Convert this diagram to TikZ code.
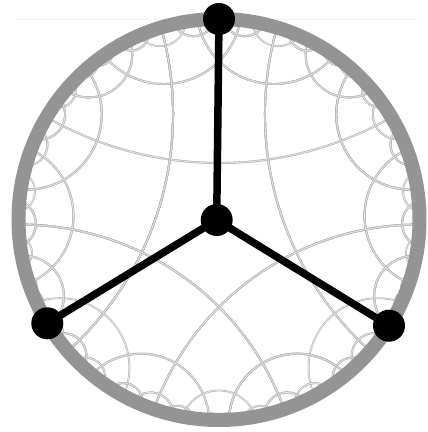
\documentclass[tikz,border=0pt]{standalone}
\usepackage{xfp}

% disk of the {5,4} tiling (pixels), shift of the central pentagon, cut-off
\def\Ox{219}\def\Oy{-219.5}\def\Rt{206}
\def\tshift{0.032}\def\alphamin{2.3}

% a geodesic k is stored by its two ideal end angles
\newcommand\setline[3]{%
  \expandafter\edef\csname lnA#1\endcsname{#2}%
  \expandafter\edef\csname lnB#1\endcsname{#3}}
\newcommand\lineA[1]{\csname lnA#1\endcsname}
\newcommand\lineB[1]{\csname lnB#1\endcsname}

% move an ideal point by the Moebius shift (0,-t)
\newcommand\shiftang[1]{\fpeval{atand(sind(#1) - \tshift, cosd(#1))
  - atand(\tshift*cosd(#1), 1 - \tshift*sind(#1))}}

% mid angle \lm and half opening \lal of geodesic #1
\newcommand\normline[1]{%
  \edef\ldel{\fpeval{((\lineB{#1})-(\lineA{#1}))
    - 360*floor(((\lineB{#1})-(\lineA{#1}))/360)}}%
  \edef\lm{\fpeval{(\lineA{#1}) + \ldel/2 + (\ldel > 180 ? 180 : 0)}}%
  \edef\lal{\fpeval{min(\ldel, 360-\ldel)/2}}}

% draw the geodesic held in \lm, \lal
\newcommand\drawgeo{%
  \edef\gx{\fpeval{round(\Ox + \Rt*cosd(\lm-\lal), 3)}}%
  \edef\gy{\fpeval{round(\Oy + \Rt*sind(\lm-\lal), 3)}}%
  \edef\gs{\fpeval{\lm + 270 - \lal}}%
  \edef\gs{\fpeval{round(\gs - 360*floor(\gs/360), 4)}}%
  \edef\ge{\fpeval{round(\gs - 180 + 2*\lal, 4)}}%
  \edef\gr{\fpeval{round(\Rt*tand(\lal), 3)}}%
  \draw[geoline] (\gx pt,\gy pt) arc[start angle=\gs, end angle=\ge, radius=\gr pt];}

% reflect geodesic #2 in the mirror \mm, \stwo (mirror is #1)
\newcommand\reflectone[2]{%
  \ifnum#1=#2\relax\else
    \edef\tmpa{\fpeval{\mm + 2*atand(\stwo*cosd(((\lineA{#2})-(\mm))/2),
      sind(((\lineA{#2})-(\mm))/2))}}%
    \edef\tmpb{\fpeval{\mm + 2*atand(\stwo*cosd(((\lineB{#2})-(\mm))/2),
      sind(((\lineB{#2})-(\mm))/2))}}%
    \setline{#2}{\fpeval{\tmpa - 360*floor(\tmpa/360)}}%
      {\fpeval{\tmpb - 360*floor(\tmpb/360)}}%
  \fi}

% do the sides #1 and #2 of the pentagon meet
\newcommand\pcommute[2]{\ifcase\numexpr#2-#1+4\relax
  1\or 0\or 0\or 1\or 0\or 1\or 0\or 0\or 1\else 0\fi}

\newcommand\hypertile{%
  \hyperchild{0}\hyperchild{1}\hyperchild{2}\hyperchild{3}\hyperchild{4}}

\newcommand\hyperchild[1]{%
  \edef\okchild{1}%
  \ifnum#1=\dA\relax \edef\okchild{0}\fi
  \ifnum#1=\dB\relax \edef\okchild{0}\fi
  \edef\cmA{\ifnum\dA>-1 \pcommute{\dA}{#1}\else 0\fi}%
  \edef\cmB{\ifnum\dB>-1 \pcommute{\dB}{#1}\else 0\fi}%
  \ifnum\cmA=1 \ifnum#1<\dA\relax \edef\okchild{0}\fi\fi
  \ifnum\cmB=1 \ifnum#1<\dB\relax \edef\okchild{0}\fi\fi
  \ifnum\okchild=1
    \normline{#1}%
    \ifdim\lal pt>\alphamin pt
      \begingroup
        \drawgeo
        \edef\mm{\lm}%
        \edef\stwo{\fpeval{tand(\lal/2)^2}}%
        \reflectone{#1}{0}\reflectone{#1}{1}\reflectone{#1}{2}%
        \reflectone{#1}{3}\reflectone{#1}{4}%
        \edef\newdB{-1}%
        \ifnum\cmA=1 \edef\newdB{\dA}\fi
        \ifnum\cmB=1 \edef\newdB{\dB}\fi
        \edef\dA{#1}\edef\dB{\newdB}%
        \hypertile
      \endgroup
    \fi
  \fi}

\begin{document}
\begin{tikzpicture}[
    x=1pt, y=1pt,
    geoline/.style={
        draw=black!28,
        line width=0.6pt,
        double=black!9,
        double distance=0.7pt
    },
    rim/.style={
        draw=black!42,
        line width=14pt
    },
    leg/.style={
        line width=7.5pt
    },
    dot/.style={
        circle,
        fill=black,
        minimum size=32pt,
        inner sep=0pt
    }
]
\useasboundingbox[fill=white] (0,0) rectangle (428,-432);

% faint rule
\draw [black!5, line width=1pt] (15,-19) -- (418,-19);

% Tiling
\edef\cpent{\fpeval{cosd(45)/sind(36)}}
\edef\azero{\fpeval{90 - 2*atand(sqrt((\cpent-1)/(\cpent+1)))}}
\setline{0}{\shiftang{90-\azero}}{\shiftang{90+\azero}}
\setline{1}{\shiftang{18-\azero}}{\shiftang{18+\azero}}
\setline{2}{\shiftang{-54-\azero}}{\shiftang{-54+\azero}}
\setline{3}{\shiftang{-126-\azero}}{\shiftang{-126+\azero}}
\setline{4}{\shiftang{-198-\azero}}{\shiftang{-198+\azero}}
\normline{0}\drawgeo
\normline{1}\drawgeo
\normline{2}\drawgeo
\normline{3}\drawgeo
\normline{4}\drawgeo
\edef\dA{-1}\edef\dB{-1}
\hypertile

% Boundary
\draw [rim] (\Ox,\Oy) circle [radius=200.5];

% Nodes
\node [dot] (hub) at (216.7,-220) {};
\node [dot] (north) at (219,-19) {};
\node [dot] (west) at (47.3,-323.3) {};
\node [dot] (east) at (389,-325.7) {};

% Legs
\draw [leg] (hub.center) -- (north.center);
\draw [leg] (hub.center) -- (west.center);
\draw [leg] (hub.center) -- (east.center);

\end{tikzpicture}
\end{document}
